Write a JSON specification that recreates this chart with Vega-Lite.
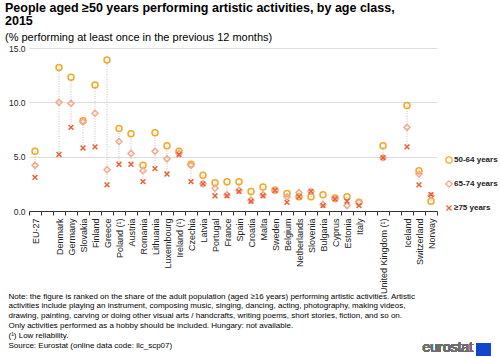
{
  "$schema": "https://vega.github.io/schema/vega-lite/v6.json",
  "width": 408,
  "height": 163,
  "autosize": {"type": "none"},
  "padding": {"left": 29, "top": 48, "right": 63, "bottom": 146},
  "background": "white",
  "title": {
    "text": ["People aged ≥50 years performing artistic activities, by age class,", "2015"],
    "subtitle": "(% performing  at least once in the previous 12 months)",
    "anchor": "start",
    "frame": "group",
    "dx": -24,
    "offset": 1,
    "font": "Liberation Sans",
    "fontSize": 12.5,
    "fontWeight": "bold",
    "lineHeight": 12.5,
    "color": "#000000",
    "subtitleFont": "Liberation Sans",
    "subtitleFontSize": 11,
    "subtitleColor": "#000000",
    "subtitlePadding": 5
  },
  "config": {
    "view": {"stroke": null},
    "font": "Liberation Sans"
  },
  "data": {
    "values": [
      {"country": "EU-27", "age": "50-64 years", "value": 5.5},
      {"country": "EU-27", "age": "65-74 years", "value": 4.2},
      {"country": "EU-27", "age": "≥75 years", "value": 3.1},
      {"country": "Denmark", "age": "50-64 years", "value": 13.2},
      {"country": "Denmark", "age": "65-74 years", "value": 10.0},
      {"country": "Denmark", "age": "≥75 years", "value": 5.2},
      {"country": "Germany", "age": "50-64 years", "value": 12.3},
      {"country": "Germany", "age": "65-74 years", "value": 9.9},
      {"country": "Germany", "age": "≥75 years", "value": 7.7},
      {"country": "Slovakia", "age": "50-64 years", "value": 8.3},
      {"country": "Slovakia", "age": "65-74 years", "value": 8.2},
      {"country": "Slovakia", "age": "≥75 years", "value": 5.8},
      {"country": "Finland", "age": "50-64 years", "value": 11.6},
      {"country": "Finland", "age": "65-74 years", "value": 9.0},
      {"country": "Finland", "age": "≥75 years", "value": 5.9},
      {"country": "Greece", "age": "50-64 years", "value": 13.9},
      {"country": "Greece", "age": "65-74 years", "value": 3.8},
      {"country": "Greece", "age": "≥75 years", "value": 2.4},
      {"country": "Poland (¹)", "age": "50-64 years", "value": 7.6},
      {"country": "Poland (¹)", "age": "65-74 years", "value": 6.4},
      {"country": "Poland (¹)", "age": "≥75 years", "value": 4.3},
      {"country": "Austria", "age": "50-64 years", "value": 7.1},
      {"country": "Austria", "age": "65-74 years", "value": 5.3},
      {"country": "Austria", "age": "≥75 years", "value": 4.3},
      {"country": "Romania", "age": "50-64 years", "value": 4.2},
      {"country": "Romania", "age": "65-74 years", "value": 3.7},
      {"country": "Romania", "age": "≥75 years", "value": 2.7},
      {"country": "Lithuania", "age": "50-64 years", "value": 7.2},
      {"country": "Lithuania", "age": "65-74 years", "value": 5.5},
      {"country": "Lithuania", "age": "≥75 years", "value": 3.9},
      {"country": "Luxembourg", "age": "50-64 years", "value": 6.0},
      {"country": "Luxembourg", "age": "65-74 years", "value": 4.8},
      {"country": "Luxembourg", "age": "≥75 years", "value": 3.4},
      {"country": "Ireland (¹)", "age": "50-64 years", "value": 5.5},
      {"country": "Ireland (¹)", "age": "65-74 years", "value": 5.3},
      {"country": "Ireland (¹)", "age": "≥75 years", "value": 5.2},
      {"country": "Czechia", "age": "50-64 years", "value": 4.3},
      {"country": "Czechia", "age": "65-74 years", "value": 4.2},
      {"country": "Czechia", "age": "≥75 years", "value": 2.7},
      {"country": "Latvia", "age": "50-64 years", "value": 3.3},
      {"country": "Latvia", "age": "65-74 years", "value": 2.5},
      {"country": "Latvia", "age": "≥75 years", "value": 2.5},
      {"country": "Portugal", "age": "50-64 years", "value": 2.6},
      {"country": "Portugal", "age": "65-74 years", "value": 2.1},
      {"country": "Portugal", "age": "≥75 years", "value": 1.4},
      {"country": "France", "age": "50-64 years", "value": 2.7},
      {"country": "France", "age": "65-74 years", "value": 1.5},
      {"country": "France", "age": "≥75 years", "value": 1.4},
      {"country": "Spain", "age": "50-64 years", "value": 2.7},
      {"country": "Spain", "age": "65-74 years", "value": 1.9},
      {"country": "Spain", "age": "≥75 years", "value": 1.8},
      {"country": "Croatia", "age": "50-64 years", "value": 1.8},
      {"country": "Croatia", "age": "65-74 years", "value": 1.0},
      {"country": "Croatia", "age": "≥75 years", "value": 0.9},
      {"country": "Malta", "age": "50-64 years", "value": 2.2},
      {"country": "Malta", "age": "65-74 years", "value": 1.5},
      {"country": "Malta", "age": "≥75 years", "value": 1.4},
      {"country": "Sweden", "age": "50-64 years", "value": 1.9},
      {"country": "Sweden", "age": "65-74 years", "value": 1.9},
      {"country": "Sweden", "age": "≥75 years", "value": 1.9},
      {"country": "Belgium", "age": "50-64 years", "value": 1.6},
      {"country": "Belgium", "age": "65-74 years", "value": 1.3},
      {"country": "Belgium", "age": "≥75 years", "value": 0.8},
      {"country": "Netherlands", "age": "50-64 years", "value": 1.3},
      {"country": "Netherlands", "age": "65-74 years", "value": 1.7},
      {"country": "Netherlands", "age": "≥75 years", "value": 1.3},
      {"country": "Slovenia", "age": "50-64 years", "value": 1.3},
      {"country": "Slovenia", "age": "65-74 years", "value": 1.8},
      {"country": "Slovenia", "age": "≥75 years", "value": 1.8},
      {"country": "Bulgaria", "age": "50-64 years", "value": 1.5},
      {"country": "Bulgaria", "age": "65-74 years", "value": 0.6},
      {"country": "Bulgaria", "age": "≥75 years", "value": 0.5},
      {"country": "Cyprus", "age": "50-64 years", "value": 1.2},
      {"country": "Cyprus", "age": "65-74 years", "value": 1.1},
      {"country": "Cyprus", "age": "≥75 years", "value": 1.1},
      {"country": "Estonia", "age": "50-64 years", "value": 1.3},
      {"country": "Estonia", "age": "65-74 years", "value": 0.5},
      {"country": "Estonia", "age": "≥75 years", "value": 0.9},
      {"country": "Italy", "age": "50-64 years", "value": 0.8},
      {"country": "Italy", "age": "65-74 years", "value": 0.8},
      {"country": "Italy", "age": "≥75 years", "value": 0.5},
      {"country": "United Kingdom (¹)", "age": "50-64 years", "value": 6.0},
      {"country": "United Kingdom (¹)", "age": "65-74 years", "value": 4.9},
      {"country": "United Kingdom (¹)", "age": "≥75 years", "value": 4.9},
      {"country": "Iceland", "age": "50-64 years", "value": 9.7},
      {"country": "Iceland", "age": "65-74 years", "value": 7.7},
      {"country": "Iceland", "age": "≥75 years", "value": 5.9},
      {"country": "Switzerland", "age": "50-64 years", "value": 3.7},
      {"country": "Switzerland", "age": "65-74 years", "value": 3.4},
      {"country": "Switzerland", "age": "≥75 years", "value": 2.4},
      {"country": "Norway", "age": "50-64 years", "value": 0.9},
      {"country": "Norway", "age": "65-74 years", "value": 1.4},
      {"country": "Norway", "age": "≥75 years", "value": 1.5}
    ]
  },
  "encoding": {
    "x": {
      "field": "country",
      "type": "nominal",
      "scale": {
        "domain": ["EU-27", " ", "Denmark", "Germany", "Slovakia", "Finland", "Greece", "Poland (¹)", "Austria", "Romania", "Lithuania", "Luxembourg", "Ireland (¹)", "Czechia", "Latvia", "Portugal", "France", "Spain", "Croatia", "Malta", "Sweden", "Belgium", "Netherlands", "Slovenia", "Bulgaria", "Cyprus", "Estonia", "Italy", "  ", "United Kingdom (¹)", "   ", "Iceland", "Switzerland", "Norway"],
        "paddingInner": 0,
        "paddingOuter": 0
      },
      "axis": {
        "labelAngle": 270,
        "labelAlign": "right",
        "labelBaseline": "middle",
        "labelFont": "Liberation Sans",
        "labelFontSize": 9,
        "labelColor": "#222222",
        "labelPadding": 3,
        "tickBand": "extent",
        "tickSize": 4,
        "tickColor": "#333333",
        "domainColor": "#333333",
        "grid": false,
        "title": [
          "Note: the figure is ranked on the share of the adult population (aged ≥16 years) performing artistic activities.  Artistic",
          "activities include playing an instrument,  composing music, singing, dancing, acting, photography, making videos,",
          "drawing, painting, carving or doing other visual arts / handcrafts,  writing poems, short stories, fiction, and so on.",
          "Only activities performed as a hobby should be included. Hungary:  not available.",
          "(¹) Low reliability.",
          "Source: Eurostat (online data code: ilc_scp07)"
        ],
        "titleFont": "Liberation Sans",
        "titleFontSize": 8,
        "titleFontWeight": "normal",
        "titleColor": "#000000",
        "titleLineHeight": 9.8,
        "titleAlign": "left",
        "titleBaseline": "top",
        "titleAngle": 0,
        "titleX": -21,
        "titleY": 81
      }
    }
  },
  "layer": [
    {
      "transform": [
        {"aggregate": [{"op": "min", "field": "value", "as": "lo"}, {"op": "max", "field": "value", "as": "hi"}], "groupby": ["country"]}
      ],
      "mark": {"type": "rule", "color": "#bdbdbd", "strokeDash": [1, 1.5], "strokeWidth": 1},
      "encoding": {
        "y": {
          "field": "lo",
          "type": "quantitative",
          "scale": {"domain": [0, 15], "nice": false},
          "axis": {
            "values": [0, 2.5, 5, 7.5, 10, 12.5, 15],
            "format": ".1f",
            "domain": false,
            "ticks": false,
            "labelFont": "Liberation Sans",
            "labelFontSize": 8.5,
            "labelColor": "#222222",
            "labelPadding": 4,
            "gridColor": "#dddddd",
            "title": null
          }
        },
        "y2": {"field": "hi"}
      }
    },
    {
      "mark": {"type": "point", "filled": false, "strokeWidth": 1.5, "size": 36, "opacity": 1},
      "encoding": {
        "y": {"field": "value", "type": "quantitative"},
        "color": {
          "field": "age",
          "type": "nominal",
          "scale": {"domain": ["50-64 years", "65-74 years", "≥75 years"], "range": ["#F6A623", "#F2A88C", "#E9603A"]},
          "legend": {
            "title": null,
            "orient": "none",
            "legendX": 416,
            "legendY": 108,
            "padding": 0,
            "rowPadding": 12,
            "labelFont": "Liberation Sans",
            "labelFontSize": 8,
            "labelFontWeight": "bold",
            "labelColor": "#222222",
            "labelOffset": 1,
            "symbolStrokeWidth": 1.3,
            "symbolSize": 40
          }
        },
        "shape": {
          "field": "age",
          "type": "nominal",
          "scale": {"domain": ["50-64 years", "65-74 years", "≥75 years"], "range": ["circle", "diamond", "M-0.8,-0.8L0.8,0.8M0.8,-0.8L-0.8,0.8"]},
          "legend": {
            "title": null,
            "orient": "none",
            "legendX": 416,
            "legendY": 108,
            "padding": 0,
            "rowPadding": 12,
            "labelFont": "Liberation Sans",
            "labelFontSize": 8,
            "labelFontWeight": "bold",
            "labelColor": "#222222",
            "labelOffset": 1,
            "symbolStrokeWidth": 1.3,
            "symbolSize": 40
          }
        }
      }
    },
    {
      "mark": {"type": "text", "text": "eurostat", "font": "Liberation Sans", "fontSize": 14, "color": "#6e6e6e", "align": "right", "baseline": "middle", "dx": 42},
      "encoding": {
        "x": {"datum": "Norway"},
        "y": {"datum": -12.6}
      }
    },
    {
      "mark": {"type": "text", "text": "■", "font": "DejaVu Sans", "fontSize": 17, "color": "#0E47CB", "align": "left", "baseline": "middle", "dx": 44},
      "encoding": {
        "x": {"datum": "Norway"},
        "y": {"datum": -12.7}
      }
    }
  ]
}
